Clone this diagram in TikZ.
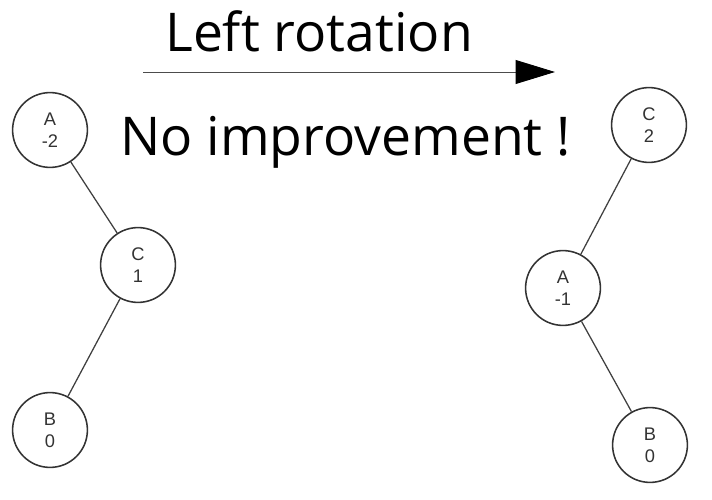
\documentclass[tikz,border=0pt]{standalone}
\usepackage{fontspec}
\setmainfont{Liberation Sans}
\newfontfamily\bigfont{Open Sans}
\usetikzlibrary{arrows.meta}

\begin{document}
\begin{tikzpicture}[x=0.025cm, y=-0.025cm,
    vertex/.style={draw=black!80, line width=1.1pt, circle, minimum size=1.87cm,
        inner sep=0pt, align=center, text=black!80,
        font=\fontsize{13}{15.5}\selectfont},
    link/.style={draw=black!75, line width=0.9pt},
    caption/.style={font=\bigfont\fontsize{38}{42}\selectfont, inner sep=0pt}]
\useasboundingbox (0,0) rectangle (712,500);

% before the rotation
\node[vertex] (a1) at (50,130) {A\\-2};
\node[vertex] (c1) at (138,265) {C\\1};
\node[vertex] (b1) at (50,430) {B\\0};

% after the rotation
\node[vertex] (c2) at (649,125) {C\\2};
\node[vertex] (a2) at (563,288) {A\\-1};
\node[vertex] (b2) at (650,445) {B\\0};

\draw[link] (a1) -- (c1);
\draw[link] (c1) -- (b1);
\draw[link] (c2) -- (a2);
\draw[link] (a2) -- (b2);

% arrow and texts
\coordinate (from) at (143,72);
\coordinate (to) at (555,72);
\draw[black!70, line width=0.7pt, -{Triangle[length=28pt, width=17pt, black]}] (from) -- (to);
\node[caption, anchor=base west] (rot) at (165,52) {Left rotation};
\node[caption, anchor=base west] (note) at (120,155) {No improvement !};
\end{tikzpicture}
\end{document}
